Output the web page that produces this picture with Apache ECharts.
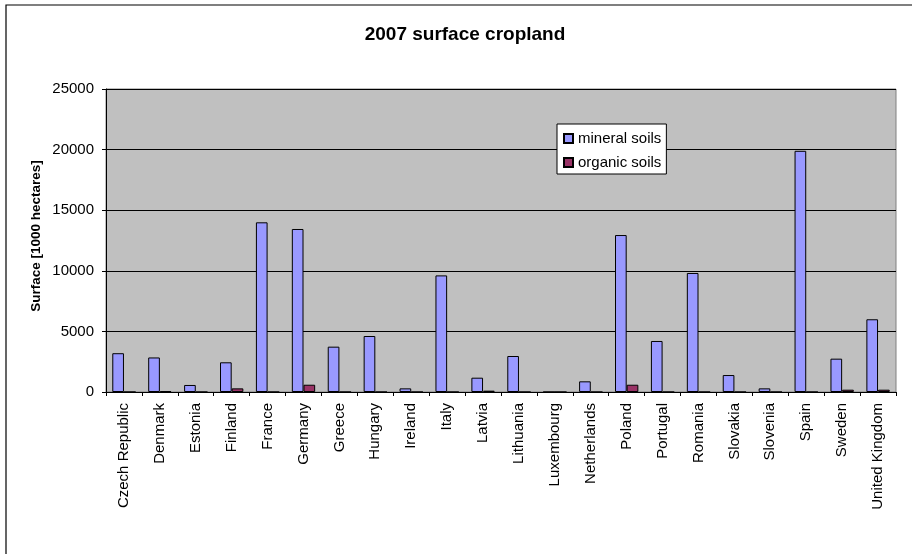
<!DOCTYPE html>
<html>
<head>
<meta charset="utf-8">
<script src="https://cdn.jsdelivr.net/npm/echarts@6/dist/echarts.min.js"></script>
<style>html,body{margin:0;padding:0;background:#fff}#c{width:912px;height:554px}</style>
</head>
<body>
<div id="c"></div>
<script>
const categories = ["Czech Republic","Denmark","Estonia","Finland","France","Germany","Greece","Hungary","Ireland","Italy","Latvia","Lithuania","Luxembourg","Netherlands","Poland","Portugal","Romania","Slovakia","Slovenia","Spain","Sweden","United Kingdom"];
const mineralSoils = [3200,2850,580,2450,14000,13450,3740,4620,300,9620,1180,2970,0,880,12950,4210,9820,1400,300,19900,2750,6000];
const organicSoils = [0,80,0,300,0,600,0,0,0,0,110,0,0,0,600,0,0,0,0,0,190,190];
const yTicks = {min:0, max:25000, interval:5000};
const FONT = "'Liberation Sans', Arial, sans-serif";

const chart = echarts.init(document.getElementById('c'), null, {renderer:'canvas'});
chart.setOption({
  animation:false,
  backgroundColor:'#fff',
  textStyle:{fontFamily:FONT},
  grid:{left:106, top:89, right:16, bottom:162, show:true, backgroundColor:'#C0C0C0', borderColor:'#808080', borderWidth:1, containLabel:false},
  legend:{
    orient:'vertical', left:557, top:124,
    backgroundColor:'#fff', borderColor:'#000', borderWidth:1,
    padding:[7,5,4,6], itemGap:9, itemWidth:9, itemHeight:9, icon:'rect',
    textStyle:{fontFamily:FONT, fontSize:15, color:'#000', lineHeight:15},
    data:['mineral soils','organic soils']
  },
  xAxis:{
    type:'category', data:categories,
    axisLine:{lineStyle:{color:'#000', width:1}},
    axisTick:{show:true, length:4, lineStyle:{color:'#000'}, alignWithLabel:false},
    axisLabel:{rotate:90, interval:0, margin:11, fontSize:15, color:'#000', fontFamily:FONT},
    splitLine:{show:false}
  },
  yAxis:{
    type:'value', min:yTicks.min, max:yTicks.max, interval:yTicks.interval,
    axisLine:{show:true, lineStyle:{color:'#000', width:1}},
    axisTick:{show:true, length:4, lineStyle:{color:'#000'}},
    axisLabel:{fontSize:15, color:'#000', margin:12, fontFamily:FONT, formatter:function(v){return String(v);}},
    splitLine:{show:true, lineStyle:{color:'#000', width:1}}
  },
  series:[
    {name:'mineral soils', type:'bar', data:mineralSoils, barGap:'0%', barCategoryGap:'35%',
     itemStyle:{color:'#9999FF', borderColor:'#000', borderWidth:1}},
    {name:'organic soils', type:'bar', data:organicSoils, barGap:'0%', barCategoryGap:'35%',
     itemStyle:{color:'#993366', borderColor:'#000', borderWidth:1}}
  ],
  graphic:[
    {type:'rect', shape:{x:6, y:5, width:940, height:600}, style:{fill:'none', stroke:'#000', lineWidth:1.2}, silent:true, z:-10},
    {type:'text', x:465, y:35, style:{text:'2007 surface cropland', font:'bold 19px '+FONT, fill:'#000', textAlign:'center', textVerticalAlign:'middle'}},
    {type:'text', x:36, y:236, rotation:Math.PI/2, style:{text:'Surface [1000 hectares]', font:'bold 13.5px '+FONT, fill:'#000', textAlign:'center', textVerticalAlign:'middle'}}
  ]
});
</script>
</body>
</html>
